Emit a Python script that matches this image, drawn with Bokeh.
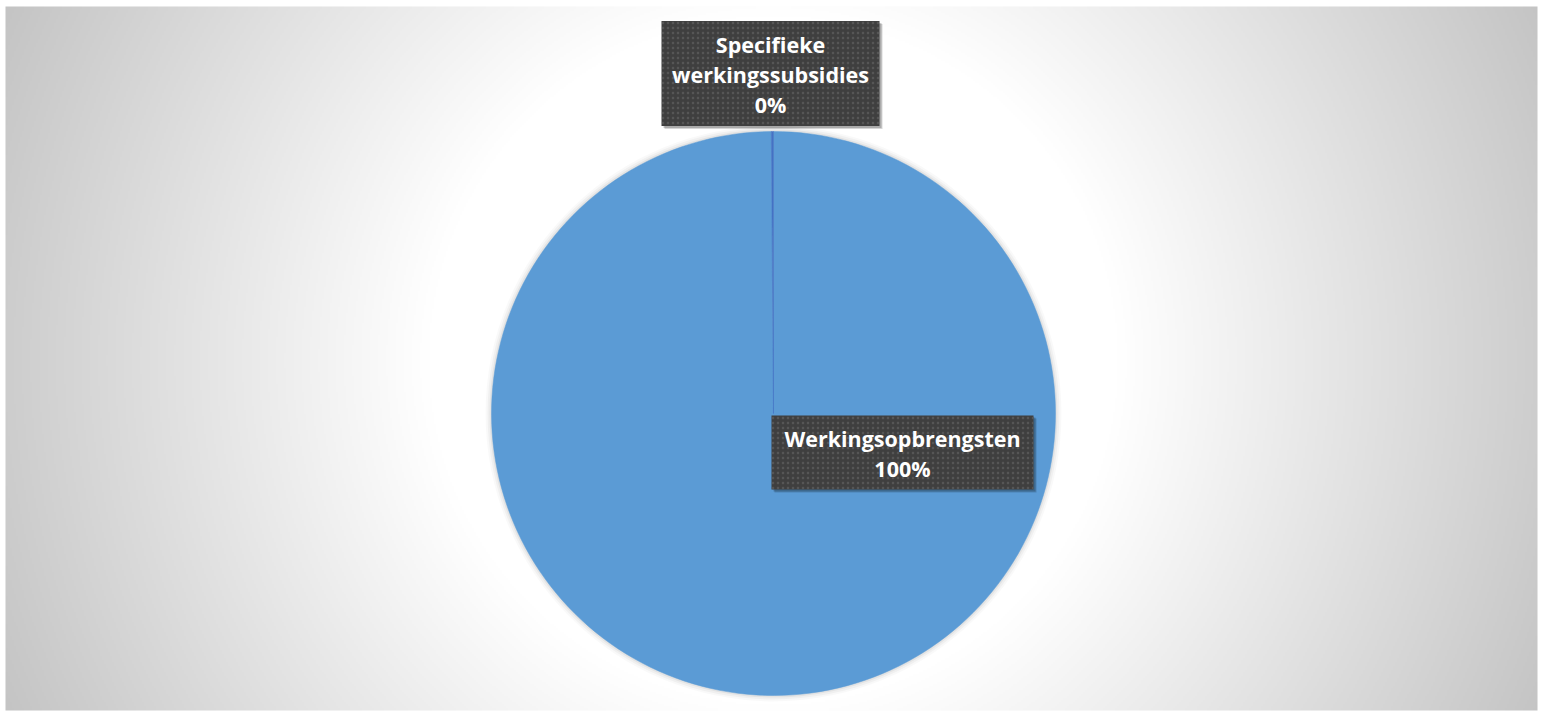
import numpy as np
from bokeh.plotting import figure
from bokeh.models import Range1d, ColumnDataSource
from bokeh.embed import file_html
from bokeh.resources import INLINE
from bokeh.core.properties import value

# ---- data ----
categories = ["Werkingsopbrengsten", "Specifieke werkingssubsidies"]
shares = [99.88, 0.12]
slice_colors = ["#5B9BD5", "#4472C4"]

# ---- layout ----
W, H = 1540, 712
CX, CY, R = 773, 299, 282
# chart area (gradient panel) in figure coordinates
AX0, AY0, AW, AH = 5, 2, 1532, 704
# label box centres relative to pie centre, and box sizes (layout only)
label_offsets = [(129, -39), (-3, 340)]
label_sizes = [(262, 74), (218, 105)]

p = figure(width=W, height=H, x_range=Range1d(0, W), y_range=Range1d(0, H),
           output_backend="svg", toolbar_location=None, min_border=0)
p.axis.visible = False
p.grid.visible = False
p.outline_line_color = None
p.background_fill_color = "white"
p.border_fill_color = "white"

# ---- radial gradient background (decoration) ----
step = 2
xs = AX0 + np.arange(0, AW, step) + step / 2
ys = AY0 + np.arange(0, AH, step) + step / 2
XX, YY = np.meshgrid(xs, ys)
gx, gy = 773, H - 360
d = np.sqrt((XX - gx) ** 2 + (YY - gy) ** 2)
g = np.clip(255 - 0.118 * np.maximum(0, d - 345), 0, 255).astype(np.uint32)
img = (255 << 24) | (g << 16) | (g << 8) | g
p.image_rgba(image=[img.astype(np.uint32)], x=AX0, y=AY0, dw=AW, dh=AH)

# ---- soft shadow around the pie (decoration) ----
for extra, alpha in [(6, 0.025), (4, 0.035), (2, 0.05)]:
    p.circle(x=CX, y=CY, radius=R + extra, fill_color="black", fill_alpha=alpha,
             line_color=None)

# ---- pie ----
total = float(sum(shares))
fracs = [s / total for s in shares]
starts, ends = [], []
a = np.pi / 2
for f in fracs:
    starts.append(a)
    a = a - f * 2 * np.pi
    ends.append(a)
src = ColumnDataSource(dict(cat=categories, start=starts, end=ends, color=slice_colors,
                            x=[CX] * len(categories), y=[CY] * len(categories)))
p.wedge(x="x", y="y", radius=R, start_angle="start", end_angle="end",
        direction="clock", fill_color="color", line_color="color", line_width=0.5,
        source=src)

# ---- data labels ----
lx = [CX + o[0] for o in label_offsets]
ly = [CY + o[1] for o in label_offsets]
bw = [s[0] for s in label_sizes]
bh = [s[1] for s in label_sizes]
texts = [f"{c.replace(' ', chr(10))}\n{round(s / total * 100)}%" for c, s in zip(categories, shares)]

lsrc = ColumnDataSource(dict(x=lx, y=ly, w=bw, h=bh, text=texts,
                             ty=[v - 1 for v in ly],
                             sx=[v + 3 for v in lx], sy=[v - 3 for v in ly],
                             sx2=[v + 2 for v in lx], sy2=[v - 2 for v in ly]))
p.rect(x="sx", y="sy", width="w", height="h", fill_color="black", fill_alpha=0.16,
       line_color=None, source=lsrc)
p.rect(x="sx2", y="sy2", width="w", height="h", fill_color="black", fill_alpha=0.2,
       line_color=None, source=lsrc)
p.rect(x="x", y="y", width="w", height="h", fill_color="#3F3F3F", line_color=None,
       hatch_pattern="dot", hatch_color="#565656", hatch_scale=5, hatch_weight=1.0,
       source=lsrc)
p.text(x="x", y="ty", text="text", text_align="center", text_baseline="middle",
       text_font=value("Open Sans"), text_font_style="bold", text_font_size="21.5px",
       text_color="white", text_line_height=1.02, source=lsrc)

open("out.html", "w").write(file_html(p, INLINE))
